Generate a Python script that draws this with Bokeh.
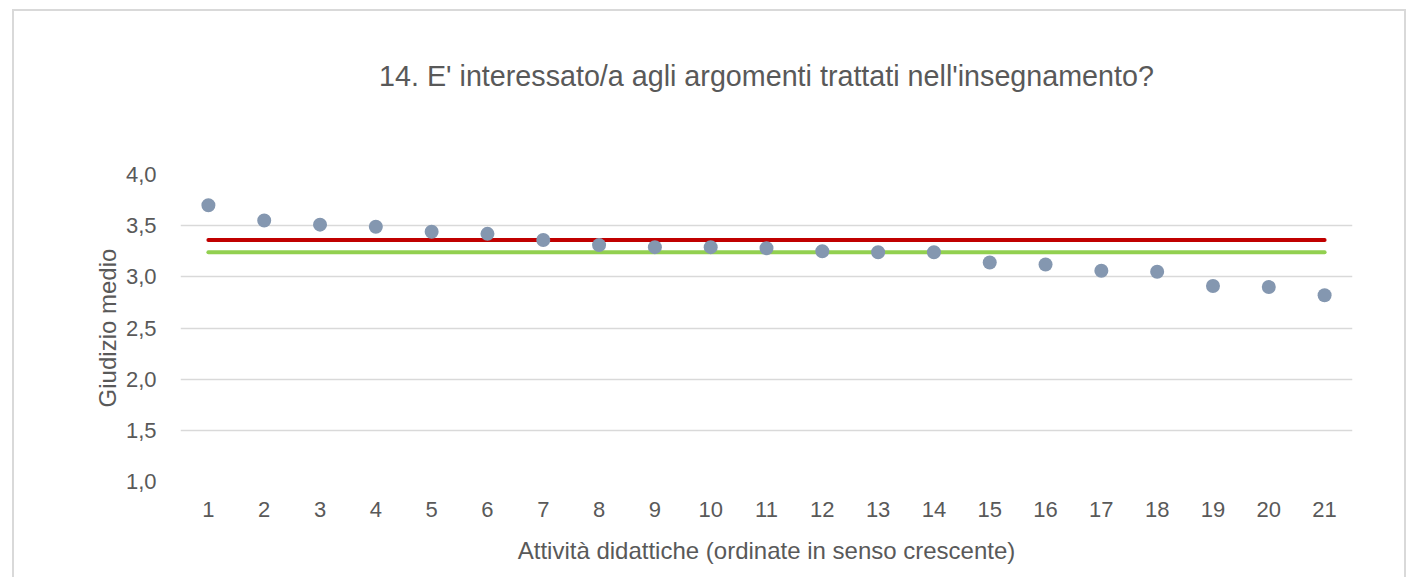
from bokeh.plotting import figure
from bokeh.embed import file_html
from bokeh.resources import INLINE
from bokeh.models import FixedTicker, CustomJSTickFormatter, Range1d, Title

# Data
attivita = list(range(1, 22))
giudizi = [3.70, 3.55, 3.51, 3.49, 3.44, 3.42, 3.36, 3.31, 3.29, 3.29, 3.28,
           3.25, 3.24, 3.24, 3.14, 3.12, 3.06, 3.05, 2.91, 2.90, 2.82]
media_rossa = 3.36
media_verde = 3.24
y_ticks = [1.0, 1.5, 2.0, 2.5, 3.0, 3.5, 4.0]
titolo = "14. E' interessato/a agli argomenti trattati nell'insegnamento?"
x_label = "Attività didattiche (ordinate in senso crescente)"
y_label = "Giudizio medio"

FONT = "Liberation Sans"
GREY = "#595959"

p = figure(width=1394, height=568, output_backend="svg", toolbar_location=None,
           x_range=Range1d(0.5, 21.5), y_range=Range1d(1.0, 4.0),
           min_border_left=166, min_border_right=56, min_border_top=163,
           min_border_bottom=98)
p.styles = {"border-left": "2px solid #d9d9d9", "border-top": "2px solid #d9d9d9",
            "border-right": "2px solid #d9d9d9", "margin-left": "12px", "margin-top": "9px"}
p.outline_line_color = None
p.background_fill_color = "white"
p.border_fill_color = "white"

# title: a blank spacer next to the frame, then the real title above it
p.add_layout(Title(text=" ", text_font_size="10px", standoff=65), "above")
p.add_layout(Title(text=titolo, align="center", text_font=FONT, text_font_size="28.7px",
                   text_font_style="normal", text_color=GREY, standoff=10), "above")

# grid
p.xgrid.grid_line_color = None
p.ygrid.ticker = FixedTicker(ticks=y_ticks)
p.ygrid.grid_line_color = "#d9d9d9"
p.ygrid.grid_line_width = 1.5

# axes
p.xaxis.ticker = FixedTicker(ticks=attivita)
p.yaxis.ticker = FixedTicker(ticks=y_ticks)
p.yaxis.formatter = CustomJSTickFormatter(code="return tick.toFixed(1).replace('.', ',');")
for ax in (p.xaxis[0], p.yaxis[0]):
    ax.axis_line_color = None
    ax.major_tick_line_color = None
    ax.minor_tick_line_color = None
    ax.major_label_text_font = FONT
    ax.major_label_text_font_size = "22px"
    ax.major_label_text_color = GREY
    ax.axis_label_text_font = FONT
    ax.axis_label_text_font_size = "24px"
    ax.axis_label_text_color = GREY
    ax.axis_label_text_font_style = "normal"
p.xaxis.axis_label = x_label
p.yaxis.axis_label = y_label
p.xaxis.major_label_standoff = 14
p.xaxis.axis_label_standoff = 17
p.yaxis.major_label_standoff = 18
p.yaxis.axis_label_standoff = 2

# reference lines
p.line([attivita[0], attivita[-1]], [media_rossa, media_rossa], line_color="#c00000",
       line_width=4, line_cap="round")
p.line([attivita[0], attivita[-1]], [media_verde, media_verde], line_color="#92d050",
       line_width=4, line_cap="round")

# points
p.scatter(attivita, giudizi, size=14, fill_color="#8497b0", line_color=None)

open("out.html", "w").write(file_html(p, INLINE))
